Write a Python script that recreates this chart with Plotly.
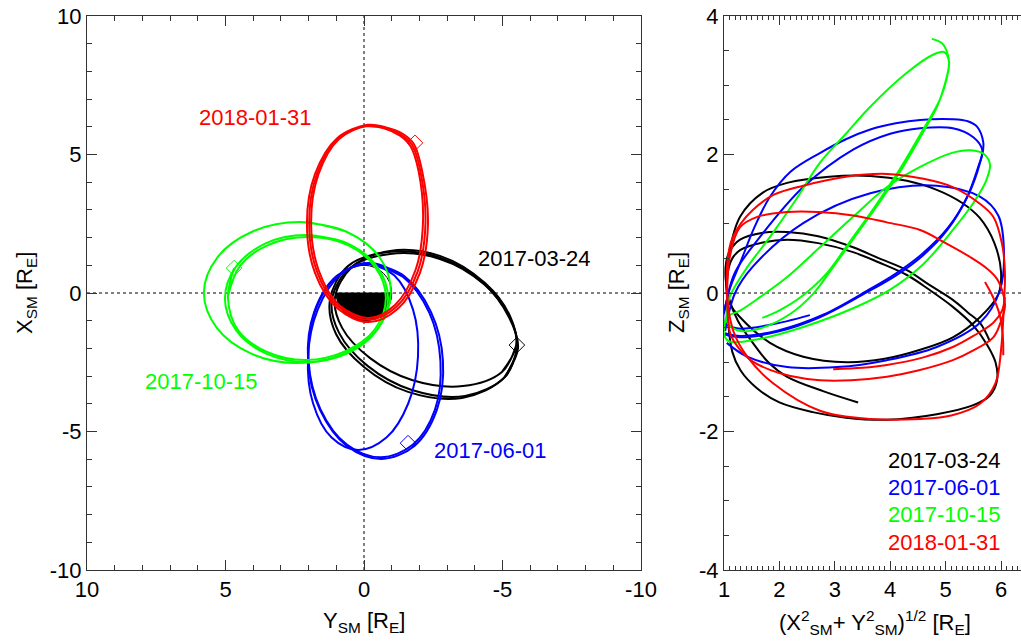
import plotly.graph_objects as go

FONT = "Liberation Sans, Arial, Helvetica, sans-serif"

dates = ["2017-03-24", "2017-06-01", "2017-10-15", "2018-01-31"]
colors = ["#000000", "#0000ff", "#00ff00", "#ff0000"]

# ---------------- Left panel: (Y_SM, X_SM) in R_E ----------------
# 2017-03-24 (black)
black_eq1_y = [-5.54, -5.09, -3.65, -1.73, -0.14, 0.90, 1.16, 0.51, -0.94, -2.74, -4.37, -5.27, -5.54, -5.09]
black_eq1_x = [-1.95, -3.03, -3.72, -3.50, -2.64, -1.44, -0.25, 0.90, 1.41, 1.23, 0.29, -0.90, -1.95, -3.03]
black_eq2_y = [-5.49, -4.98, -3.57, -1.73, -0.22, 0.79, 1.05, 0.43, -0.94, -2.74, -4.37, -5.27, -5.49, -4.98]
black_eq2_x = [-1.91, -2.85, -3.36, -3.14, -2.35, -1.26, -0.18, 0.94, 1.52, 1.34, 0.36, -0.83, -1.91, -2.85]
black_eq3_y = [-5.56, -5.05, -3.54, -1.59, 0.0, 1.01, 1.23, 0.58, -0.87, -2.67, -4.30, -5.23, -5.56, -5.05]
black_eq3_x = [-1.99, -3.07, -3.79, -3.57, -2.67, -1.48, -0.25, 0.97, 1.48, 1.30, 0.36, -0.87, -1.99, -3.07]

# 2017-06-01 (blue)
blue_eq1_y = [-0.20, -1.45, -2.42, -2.85, -2.63, -1.82, -0.63, 0.62, 1.59, 2.02, 1.80, 0.99, -0.20, -1.45]
blue_eq1_x = [1.08, 0.61, -0.69, -2.45, -4.22, -5.52, -5.99, -5.52, -4.22, -2.45, -0.69, 0.61, 1.08, 0.61]
blue_eq2_y = [-0.18, -1.41, -2.36, -2.76, -2.56, -1.77, -0.60, 0.62, 1.57, 2.0, 1.78, 0.98, -0.18, -1.41]
blue_eq2_x = [1.05, 0.58, -0.72, -2.47, -4.22, -5.47, -5.93, -5.47, -4.2, -2.45, -0.7, 0.6, 1.05, 0.58]
blue_eq3_y = [-0.13, -1.10, -1.77, -1.95, -1.60, -0.81, 0.21, 1.17, 1.84, 2.02, 1.67, 0.88, -0.13, -1.10]
blue_eq3_x = [1.08, 0.63, -0.60, -2.29, -3.98, -5.22, -5.67, -5.22, -3.98, -2.29, -0.60, 0.63, 1.08, 0.63]

# 2017-10-15 (green)
green_eq1_y = [2.31, 0.65, -0.56, -0.97, -0.52, 0.71, 2.40, 4.09, 5.32, 5.78, 5.29, 4.02, 2.31, 0.65]
green_eq1_x = [2.56, 2.22, 1.29, 0.02, -1.25, -2.18, -2.53, -2.18, -1.25, 0.02, 1.29, 2.22, 2.56, 2.22]
green_eq2_y = [2.08, 0.60, -0.47, -0.87, -0.47, 0.60, 2.08, 3.55, 4.62, 5.02, 4.62, 3.55, 2.08, 0.60]
green_eq2_x = [2.09, 1.79, 0.95, -0.20, -1.34, -2.18, -2.49, -2.18, -1.34, -0.20, 0.95, 1.79, 2.09, 1.79]
green_eq3_y = [4.69, 4.91, 4.55, 3.50, 2.09, 0.65, -0.40, -0.79, -0.43, 0.58, 2.02, 3.47, 4.48, 4.91]
green_eq3_x = [0.90, -0.18, -1.34, -2.13, -2.42, -2.09, -1.30, -0.18, 0.90, 1.73, 2.02, 1.73, 0.97, -0.11]

# 2018-01-31 (red)
red_eq1_y = [-0.13, -0.80, -1.41, -1.80, -2.09, -2.31, -2.02, -1.22, -0.18, 0.94, 1.77, 2.06, 1.77, 0.97, -0.13, -0.80]
red_eq1_x = [6.07, 5.98, 5.74, 5.38, 4.45, 2.51, 0.73, -0.57, -1.05, -0.57, 0.73, 2.51, 4.29, 5.59, 6.07, 5.98]
red_eq2_y = [-0.11, -0.72, -1.30, -1.68, -1.97, -2.13, -1.86, -1.12, -0.18, 0.90, 1.64, 1.91, 1.64, 0.90, -0.11, -0.72]
red_eq2_x = [6.03, 5.95, 5.68, 5.30, 4.40, 2.56, 0.83, -0.43, -0.90, -0.43, 0.83, 2.56, 4.30, 5.56, 6.03, 5.95]
red_eq3_y = [-0.12, -0.76, -1.35, -1.74, -2.03, -2.22, -1.94, -1.17, -0.18, 0.92, 1.70, 1.98, 1.70, 0.93, -0.12, -0.76]
red_eq3_x = [6.05, 5.96, 5.71, 5.34, 4.42, 2.54, 0.78, -0.50, -0.97, -0.50, 0.78, 2.54, 4.29, 5.57, 6.05, 5.96]

# start markers (diamonds), order as dates
start_ysm = [-5.52, -1.59, 4.69, -1.84]
start_xsm = [-1.88, -5.42, 0.90, 5.42]

# date labels in left panel (Y_SM, X_SM)
label_ysm = [-6.14, -4.58, 5.85, 3.93]
label_xsm = [1.23, -5.70, -3.18, 6.32]

# ---------------- Right panel: (R, Z_SM) ----------------
black_mer1_r = [1.05, 1.08, 1.29, 1.7, 2.14, 2.9, 3.64, 4.3, 4.84, 5.3, 5.62, 5.88, 6.0, 5.95, 5.62, 5.13, 4.54, 3.9, 3.22, 2.43, 1.83, 1.29, 1.1, 1.05]
black_mer1_z = [0.0, 0.5, 1.1, 1.45, 1.59, 1.68, 1.69, 1.62, 1.49, 1.3, 1.08, 0.72, 0.3, -0.02, -0.35, -0.64, -0.82, -0.95, -1.0, -0.92, -0.72, -0.35, -0.15, 0.0]
black_mer2_r = [1.07, 1.07, 1.15, 1.29, 1.7, 2.14, 2.7, 3.33, 3.8, 4.3, 4.7, 5.13, 5.5, 5.75, 5.9, 5.93, 5.8, 5.5, 4.84, 3.94, 3.2, 2.6, 2.0, 1.6, 1.3, 1.15, 1.07]
black_mer2_z = [-0.35, 0.3, 0.5, 0.62, 0.73, 0.77, 0.72, 0.59, 0.44, 0.26, 0.05, -0.2, -0.47, -0.75, -1.0, -1.25, -1.48, -1.62, -1.75, -1.83, -1.8, -1.72, -1.58, -1.38, -1.12, -0.85, -0.35]
black_mer3_r = [3.42, 2.8, 2.14, 1.8, 1.52, 1.25, 1.1, 1.03, 1.04, 1.1, 1.29, 1.7, 2.14, 2.7, 3.33, 3.8, 4.3, 4.7, 5.13, 5.4, 5.62, 5.8]
black_mer3_z = [-1.58, -1.42, -1.21, -1.0, -0.72, -0.4, -0.1, 0.2, 0.45, 0.6, 0.77, 0.87, 0.88, 0.82, 0.66, 0.5, 0.33, 0.12, -0.1, -0.28, -0.43, -0.7]

blue_mer1_r = [1.0, 1.1, 1.29, 1.55, 1.83, 2.2, 2.73, 3.2, 3.64, 4.1, 4.54, 5.13, 5.4, 5.57, 5.68, 5.66, 5.6, 5.39, 5.03, 4.6, 4.1, 3.51, 2.73, 1.96, 1.29, 1.02]
blue_mer1_z = [-0.3, 0.05, 0.43, 0.95, 1.39, 1.75, 2.02, 2.22, 2.36, 2.45, 2.5, 2.51, 2.48, 2.4, 2.17, 2.0, 1.85, 1.39, 0.91, 0.55, 0.25, -0.02, -0.35, -0.56, -0.64, -0.6]
blue_mer2_r = [2.55, 1.83, 1.23, 1.0, 1.05, 1.2, 1.65, 2.43, 3.33, 4.0, 4.54, 5.13, 5.5, 5.66, 5.62, 5.4, 5.05, 4.6, 4.1, 3.6, 2.8, 1.98, 1.3, 1.02]
blue_mer2_z = [-0.32, -0.46, -0.51, -0.42, -0.1, 0.3, 0.81, 1.53, 2.07, 2.3, 2.38, 2.38, 2.25, 2.07, 1.88, 1.4, 0.95, 0.58, 0.28, 0.04, -0.31, -0.54, -0.62, -0.58]
blue_mer3_r = [1.02, 1.2, 1.52, 2.43, 3.64, 4.84, 5.62, 5.95, 6.05, 5.98, 5.62, 4.84, 3.94, 3.04, 2.14, 1.42, 1.05]
blue_mer3_z = [-0.55, 0.0, 0.38, 1.01, 1.44, 1.55, 1.39, 1.12, 0.66, 0.04, -0.43, -0.78, -0.97, -1.07, -1.07, -0.92, -0.72]

green_mer1_r = [4.75, 4.93, 5.03, 5.06, 4.98, 4.85, 4.62, 4.2, 3.78, 3.35, 2.93, 2.6, 2.2, 1.7, 1.3, 1.08, 1.05, 1.3, 1.65, 2.14, 2.73, 3.33, 3.94, 4.54, 5.1, 5.45, 5.7, 5.8, 5.72, 5.5, 5.13, 4.6, 4.0, 3.33, 2.43, 1.65, 1.1, 1.0, 1.05, 1.1, 1.4, 1.83, 2.3, 2.73, 3.2, 3.64, 4.3, 4.77, 4.97, 5.06, 5.02, 4.9, 4.55, 4.12, 3.7, 3.27, 2.85, 2.4, 2.0, 1.69]
green_mer1_z = [3.67, 3.61, 3.47, 3.3, 3.0, 2.7, 2.36, 1.78, 1.28, 0.8, 0.33, -0.02, -0.3, -0.5, -0.55, -0.45, -0.35, -0.25, -0.06, 0.23, 0.66, 1.1, 1.53, 1.82, 2.02, 2.06, 2.0, 1.85, 1.6, 1.3, 0.91, 0.42, 0.05, -0.22, -0.49, -0.66, -0.7, -0.6, -0.3, -0.06, 0.35, 0.81, 1.35, 1.88, 2.3, 2.69, 3.18, 3.44, 3.48, 3.35, 3.1, 2.8, 2.3, 1.72, 1.22, 0.74, 0.28, -0.05, -0.25, -0.36]

red_mer1_r = [1.05, 1.12, 1.3, 1.52, 1.9, 2.43, 3.2, 3.94, 4.6, 5.13, 5.6, 5.86, 6.02, 6.07, 6.05, 6.0, 5.9, 5.62, 5.1, 4.54, 3.64, 2.73, 1.88, 1.42, 1.16, 1.05]
red_mer1_z = [0.1, 0.72, 1.0, 1.2, 1.42, 1.55, 1.68, 1.72, 1.65, 1.53, 1.3, 1.1, 0.7, 0.3, -0.2, -0.82, -1.3, -1.6, -1.77, -1.82, -1.82, -1.7, -1.3, -0.92, -0.53, 0.1]
red_mer2_r = [1.07, 1.1, 1.29, 1.6, 2.14, 2.7, 3.33, 3.94, 4.54, 5.0, 5.44, 5.75, 5.93, 6.05, 6.07, 5.98, 5.86, 5.5, 5.13, 4.5, 3.94, 3.3, 2.73, 2.2, 1.83, 1.5, 1.29, 1.12, 1.07]
red_mer2_z = [-0.35, 0.5, 0.95, 1.1, 1.17, 1.17, 1.12, 1.02, 0.91, 0.72, 0.52, 0.35, 0.2, -0.05, -0.2, -0.45, -0.64, -0.83, -0.97, -1.12, -1.21, -1.26, -1.26, -1.2, -1.11, -0.98, -0.82, -0.6, -0.35]
red_mer3_r = [2.97, 3.5, 3.94, 4.6, 5.13, 5.5, 5.86, 6.02, 6.07]
red_mer3_z = [-1.1, -1.08, -1.04, -0.93, -0.78, -0.62, -0.43, -0.25, -0.06]
red_mer4_r = [5.71, 5.85, 5.97, 6.03, 6.04]
red_mer4_z = [0.16, -0.05, -0.3, -0.6, -0.9]

# ticks
left_ticks = [10, 5, 0, -5, -10]
left_ticktext = ["10", "5", "0", "-5", "-10"]
right_xticks = [1, 2, 3, 4, 5, 6]
right_xticktext = ["1", "2", "3", "4", "5", "6"]
right_yticks = [4, 2, 0, -2, -4]
right_yticktext = ["4", "2", "0", "-2", "-4"]

eq_orbits = [
    (0, black_eq1_y, black_eq1_x), (0, black_eq2_y, black_eq2_x), (0, black_eq3_y, black_eq3_x),
    (1, blue_eq1_y, blue_eq1_x), (1, blue_eq2_y, blue_eq2_x), (1, blue_eq3_y, blue_eq3_x),
    (2, green_eq1_y, green_eq1_x), (2, green_eq2_y, green_eq2_x), (2, green_eq3_y, green_eq3_x),
    (3, red_eq1_y, red_eq1_x), (3, red_eq2_y, red_eq2_x), (3, red_eq3_y, red_eq3_x),
]
mer_orbits = [
    (0, black_mer1_r, black_mer1_z), (0, black_mer2_r, black_mer2_z), (0, black_mer3_r, black_mer3_z),
    (1, blue_mer1_r, blue_mer1_z), (1, blue_mer2_r, blue_mer2_z), (1, blue_mer3_r, blue_mer3_z),
    (2, green_mer1_r, green_mer1_z),
    (3, red_mer1_r, red_mer1_z), (3, red_mer2_r, red_mer2_z), (3, red_mer3_r, red_mer3_z), (3, red_mer4_r, red_mer4_z),
]

fig = go.Figure()

for ci, ys, xs in eq_orbits:
    fig.add_trace(go.Scatter(x=ys, y=xs, mode="lines", xaxis="x", yaxis="y",
                             line=dict(color=colors[ci], width=2, shape="spline", smoothing=1.0),
                             showlegend=False, hoverinfo="skip"))

fig.add_trace(go.Scatter(x=start_ysm, y=start_xsm, mode="markers", xaxis="x", yaxis="y",
                         marker=dict(symbol="diamond-open", size=12, color=colors,
                                     line=dict(width=1, color=colors)),
                         showlegend=False, hoverinfo="skip"))

for ci, rs, zs in mer_orbits:
    fig.add_trace(go.Scatter(x=rs, y=zs, mode="lines", xaxis="x2", yaxis="y2",
                             line=dict(color=colors[ci], width=2, shape="spline", smoothing=1.0),
                             showlegend=False, hoverinfo="skip"))

W, H = 1021, 642
L0, L1 = 87, 641
R0, R1 = 724, 1021
T0, B0 = 16, 570

def px(x):
    return x / W

def py(y):
    return 1 - y / H

axis_common = dict(showgrid=False, zeroline=False, showline=True, linecolor="#333333", linewidth=1,
                   ticks="inside", tickcolor="#333333", tickwidth=1, automargin=False,
                   tickfont=dict(family=FONT, size=22, color="black"))

# Earth: unit circle, night side (X_SM < 0) filled
EARTH_R = 1.0
K = 0.5523 * EARTH_R
earth_half = (f"M {EARTH_R},0 C {EARTH_R},{-K} {K},{-EARTH_R} 0,{-EARTH_R} "
              f"C {-K},{-EARTH_R} {-EARTH_R},{-K} {-EARTH_R},0 Z")

shapes = [
    dict(type="line", xref="x", yref="y domain", x0=0, x1=0, y0=0, y1=1,
         line=dict(color="black", width=1, dash="dot"), layer="below"),
    dict(type="line", xref="x domain", yref="y", x0=0, x1=1, y0=0, y1=0,
         line=dict(color="black", width=1, dash="dot"), layer="below"),
    dict(type="line", xref="x2 domain", yref="y2", x0=0, x1=1, y0=0, y1=0,
         line=dict(color="black", width=1, dash="dot"), layer="below"),
    dict(type="path", xref="x", yref="y", path=earth_half, fillcolor="black",
         line=dict(color="black", width=1), layer="below"),
    dict(type="circle", xref="x", yref="y", x0=-EARTH_R, x1=EARTH_R, y0=-EARTH_R, y1=EARTH_R,
         line=dict(color="black", width=1), layer="below"),
]

annotations = []
for i in range(4):
    annotations.append(dict(x=label_ysm[i], y=label_xsm[i], xref="x", yref="y", text=dates[i],
                            showarrow=False, font=dict(family=FONT, size=22, color=colors[i])))
legend_rows = [460, 487, 514, 542]
for i in range(4):
    annotations.append(dict(x=px(886), y=py(legend_rows[i]), xref="paper", yref="paper",
                            xanchor="left", yanchor="middle", text=dates[i], showarrow=False,
                            font=dict(family=FONT, size=22, color=colors[i])))

title_font = dict(family=FONT, size=22, color="black")
annotations += [
    dict(x=px(364), y=py(622), xref="paper", yref="paper", text="Y<sub>SM</sub> [R<sub>E</sub>]",
         showarrow=False, font=title_font, xanchor="center", yanchor="middle"),
    dict(x=px(26), y=py(293), xref="paper", yref="paper", text="X<sub>SM</sub> [R<sub>E</sub>]",
         showarrow=False, font=title_font, textangle=-90, xanchor="center", yanchor="middle"),
    dict(x=px(875), y=py(622), xref="paper", yref="paper",
         text="(X<sup>2</sup><sub>SM</sub>+ Y<sup>2</sup><sub>SM</sub>)<sup>1/2</sup> [R<sub>E</sub>]",
         showarrow=False, font=title_font, xanchor="center", yanchor="middle"),
    dict(x=px(678), y=py(293), xref="paper", yref="paper", text="Z<sub>SM</sub> [R<sub>E</sub>]",
         showarrow=False, font=title_font, textangle=-90, xanchor="center", yanchor="middle"),
]

fig.update_layout(
    template="none",
    width=W, height=H, margin=dict(l=0, r=0, t=0, b=0, pad=0, autoexpand=False),
    paper_bgcolor="white", plot_bgcolor="white",
    font=dict(family=FONT, color="black"),
    showlegend=False,
    xaxis=dict(domain=[px(L0), px(L1)], anchor="y", range=[10, -10],
               tickvals=left_ticks, ticktext=left_ticktext, ticklen=10, mirror="ticks",
               minor=dict(dtick=1, tick0=0, ticklen=5, ticks="inside", tickcolor="#333333"),
               **axis_common),
    yaxis=dict(domain=[py(B0), py(T0)], anchor="x", range=[-10, 10],
               tickvals=left_ticks, ticktext=left_ticktext, ticklen=10, mirror="ticks",
               minor=dict(dtick=1, tick0=0, ticklen=5, ticks="inside", tickcolor="#333333"),
               **axis_common),
    xaxis2=dict(domain=[px(R0), px(R1)], anchor="y2", range=[1, 6.36],
                tickvals=right_xticks, ticktext=right_xticktext, ticklen=9, mirror="ticks",
                minor=dict(dtick=0.1, tick0=0, ticklen=4, ticks="inside", tickcolor="#333333"),
                **axis_common),
    yaxis2=dict(domain=[py(B0), py(T0)], anchor="x2", range=[-4, 4],
                tickvals=right_yticks, ticktext=right_yticktext, ticklen=10, mirror=False,
                minor=dict(dtick=0.5, tick0=0, ticklen=5, ticks="inside", tickcolor="#333333"),
                **axis_common),
    shapes=shapes,
    annotations=annotations,
)

fig.write_html("out.html", config={"displayModeBar": False, "staticPlot": True},
               post_script="document.body.style.margin='0px';document.body.style.overflow='hidden';")
